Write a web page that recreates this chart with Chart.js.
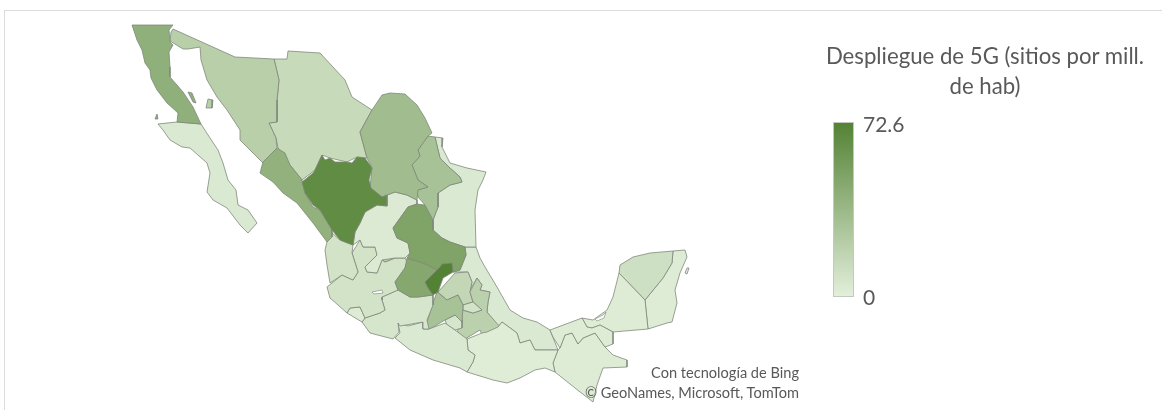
<!DOCTYPE html>
<html><head><meta charset="utf-8">
<script src="https://cdn.jsdelivr.net/npm/chart.js@4/dist/chart.umd.min.js"></script>
<style>
html,body{margin:0;padding:0;background:#fff;overflow:hidden}
#wrap{position:relative;width:1162px;height:410px;overflow:hidden}
#frame{position:absolute;left:4px;top:10px;width:1170px;height:420px;border:1.5px solid #dcdcdc}
canvas{position:absolute;left:0;top:0;filter:blur(0.45px)}
.t{position:absolute;font-family:Lato,"Open Sans",sans-serif;color:#595959;white-space:nowrap}
#title{left:785px;width:400px;top:41px;text-align:center;font-size:22.2px;line-height:30px}
#bar{position:absolute;left:833px;top:122px;width:19px;height:173px;border:1px solid #c4c9c0}
.tick{font-size:21px;line-height:24px;left:863px}
.attr{font-size:14.6px;line-height:18px;right:363px;text-align:right}
</style></head><body>
<div id="wrap">
<div id="frame"></div>
<canvas id="c" width="1162" height="410"></canvas>
<div class="t" id="title"></div>
<div id="bar"></div>
<div class="t tick" id="tmax" style="top:112px"></div>
<div class="t tick" id="tmin" style="top:285px"></div>
<div class="t attr" style="top:364px">Con tecnología de Bing</div>
<div class="t attr" style="top:384px">© GeoNames, Microsoft, TomTom</div>
</div>
<script>
const titleLines = ["Despliegue de 5G (sitios por mill.", "de hab)"];
const scaleMin = 0, scaleMax = 72.6;
const lowColor = [226,239,218], highColor = [84,130,53];

const stateNames = ["Querétaro","Durango","Baja California","Sinaloa","Coahuila","Nuevo León","Sonora","Chihuahua","San Luis Potosí","Guanajuato","Zacatecas","Aguascalientes","Nayarit","Jalisco","Colima","Michoacán","Guerrero","Oaxaca","México","Ciudad de México","Morelos","Tlaxcala","Puebla","Hidalgo","Tamaulipas","Tabasco","Chiapas","Campeche","Yucatán","Quintana Roo","Baja California Sur","Veracruz"];
const stateValues = [72.6,66,42,41,33,30,21,14,50,47,3,20,8,8,2,6,4,1.5,30,6,6,8,20,16,4,2,2,2,10,2,4,4];
// outlines on the map grid; several rings for a state with islands
const stateOutlines = [
 [[425,282,440,267,442,264,452,263,453,272,443,278,438,292,433,295,428,288]],
 [[315,170,322,155,325,160,330,158,335,162,347,162,352,163,357,157,365,158,372,168,369,180,371,188,382,197,387,195,387,206,377,205,365,212,360,223,355,232,353,245,345,242,340,240,332,230,320,210,313,205,305,193,302,182,313,173]],
 [[132,25,173,25,169,30,170,42,173,45,169,52,170,67,170,77,183,92,193,107,201,124,177,122,178,113,167,103,157,90,151,78,150,70,145,63,142,50,137,40],[188,92,192,93,196,103,193,102],[155,119,157,114,158,119]],
 [[277,148,285,153,290,165,302,180,305,193,313,207,320,210,332,228,332,237,327,242,313,223,297,203,283,193,273,182,260,173,263,162]],
 [[372,110,382,95,390,93,405,94,417,105,425,118,432,133,428,136,418,150,420,156,412,165,418,180,428,187,418,190,417,200,407,195,395,192,387,195,382,197,370,188,372,168,367,158,360,132]],
 [[428,136,435,137,440,158,450,168,460,177,462,182,450,185,438,193,438,207,433,220,425,205,418,197,417,190,428,187,418,180,412,165,420,156,418,150]],
 [[173,29,235,57,274,59,279,80,277,100,277,122,269,123,276,138,277,148,263,163,257,157,240,140,240,130,227,110,217,97,207,80,201,60,200,47,188,49,183,49,170,41,171,32],[206,108,208,99,213,100,212,108]],
 [[274,59,287,59,288,51,320,53,345,80,352,97,372,110,360,132,367,158,357,157,347,162,330,158,322,155,315,170,302,180,290,165,278,148,276,138,269,123,277,122,277,100,279,80]],
 [[417,204,425,205,433,220,433,230,442,238,450,242,465,247,466,255,460,270,453,272,452,263,440,267,438,270,423,263,407,258,410,253,408,243,397,238,393,228,408,207]],
 [[407,258,423,263,438,270,425,282,428,288,433,295,418,297,410,297,398,290,395,282,405,268]],
 [[387,206,387,195,395,192,407,195,417,200,417,204,408,207,393,228,397,238,408,243,410,253,405,258,395,258,382,260,377,273,367,272,365,267,377,255,375,247,363,247,360,240,353,245,355,232,360,223,365,212,377,205]],
 [[380,253,388,247,398,252,395,258,385,262,381,258]],
 [[327,242,332,233,340,240,353,245,352,253,358,272,353,280,342,275,330,283,327,265,325,250]],
 [[327,287,342,275,353,280,358,272,352,253,360,240,363,247,375,247,377,255,365,267,367,272,377,273,382,260,385,262,395,258,405,258,407,262,405,268,395,282,398,290,382,297,382,300,385,310,380,313,365,318,360,307,350,308,347,313,338,305,330,298]],
 [[350,308,360,307,365,318,362,322,347,313]],
 [[382,297,398,290,410,297,418,297,433,295,433,305,427,320,429,329,423,329,423,322,400,326,398,323,399,332,393,339,370,333,362,322,365,318,380,313,385,310,382,300]],
 [[395,338,400,333,398,323,408,326,423,322,423,329,429,329,445,323,455,330,467,339,468,350,475,355,473,362,467,372,460,368,433,360,410,350]],
 [[467,372,473,362,475,355,468,350,467,339,482,333,487,332,498,327,502,322,517,333,520,343,530,340,535,350,558,350,553,363,555,372,545,368,535,370,520,378,507,383,493,380]],
 [[437,292,447,300,458,295,463,305,462,322,455,315,445,320,428,330,427,322,433,303]],
 [[450,313,452,305,455,312,453,315]],
 [[445,320,455,315,462,320,462,328,455,330,447,325]],
 [[463,305,473,302,482,310,473,313,463,310]],
 [[477,278,482,285,480,290,490,292,488,302,487,312,500,327,483,337,480,330,465,339,457,332,462,322,462,310,473,313,482,310,473,302,470,292]],
 [[438,292,455,273,468,272,472,282,470,292,473,302,463,305,458,295,447,300]],
 [[435,137,443,138,442,147,450,163,467,168,486,172,483,180,478,190,475,210,476,247,465,247,450,242,442,238,433,230,433,220,438,207,438,193,450,185,462,182,460,177,450,168,440,158]],
 [[550,330,582,318,587,327,592,328,600,325,613,332,613,344,605,347,595,333,583,338,578,344,572,333,565,335,560,348,553,337]],
 [[558,350,560,348,565,335,572,333,578,344,583,338,595,333,605,347,613,355,627,360,627,367,603,368,597,385,593,402,575,388,560,376,555,372,553,363]],
 [[582,318,593,320,600,315,607,310,613,297,619,273,645,300,648,329,613,332,600,325,592,328,587,327]],
 [[619,273,620,265,633,257,650,253,673,251,672,263,663,278,645,300]],
 [[673,251,685,250,687,257,680,273,675,290,677,303,672,322,667,323,648,329,645,300,663,278,672,263],[685,273,687,268,689,268,687,274]],
 [[158,124,177,122,201,124,210,138,218,150,223,163,228,180,236,190,238,205,248,210,257,223,248,233,240,225,227,208,213,200,207,192,210,173,207,163,190,148,182,147,170,140,163,130]],
 [[465,247,476,247,480,258,485,267,497,287,510,310,523,318,537,322,550,330,558,350,535,350,530,340,520,343,517,333,502,322,498,327,487,312,488,302,490,292,480,290,482,285,477,278,470,290,472,282,468,272,453,272,460,270,466,255]]
];
const lakeNames = ["Lago de Chapala","Laguna de Términos"];
const lakeOutlines = [[372,292,382,290,383,293,374,294],[595,319,603,315,606,312,604,318,597,321]];
const outlineColor = "rgba(125,135,120,0.78)";

function shade(v){
  const t = (v - scaleMin) / (scaleMax - scaleMin);
  const c = lowColor.map((l,i)=>Math.round(l + (highColor[i]-l)*t));
  return `rgb(${c.join(",")})`;
}
function ringData(ring){
  const data=[];
  for(let k=0;k<ring.length;k+=2) data.push({x:ring[k],y:ring[k+1]});
  data.push({x:ring[0],y:ring[1]});
  return data;
}
const datasets = [];
lakeNames.forEach((name,i)=>{
  datasets.push({label:name,data:ringData(lakeOutlines[i]),showLine:true,fill:"shape",tension:0,
    backgroundColor:"#fff",borderColor:outlineColor,borderWidth:0.8,pointRadius:0,pointHoverRadius:0});
});
stateNames.forEach((name,i)=>{
  stateOutlines[i].forEach(ring=>{
    datasets.push({label:name,data:ringData(ring),showLine:true,fill:"shape",tension:0,
      backgroundColor:shade(stateValues[i]),borderColor:outlineColor,borderWidth:1,pointRadius:0,pointHoverRadius:0});
  });
});
new Chart(document.getElementById("c"),{
  type:"scatter",
  data:{datasets},
  options:{responsive:false,animation:false,layout:{padding:0},
    plugins:{legend:{display:false},tooltip:{enabled:false}},
    scales:{
      x:{type:"linear",min:0,max:1162,display:false},
      y:{type:"linear",min:0,max:410,reverse:true,display:false}
    }}
});
document.getElementById("title").innerHTML = titleLines.join("<br>");
document.getElementById("tmax").textContent = String(scaleMax);
document.getElementById("tmin").textContent = String(scaleMin);
document.getElementById("bar").style.background =
  `linear-gradient(to bottom, ${shade(scaleMax)}, ${shade(scaleMin)})`;
</script>
</body></html>
